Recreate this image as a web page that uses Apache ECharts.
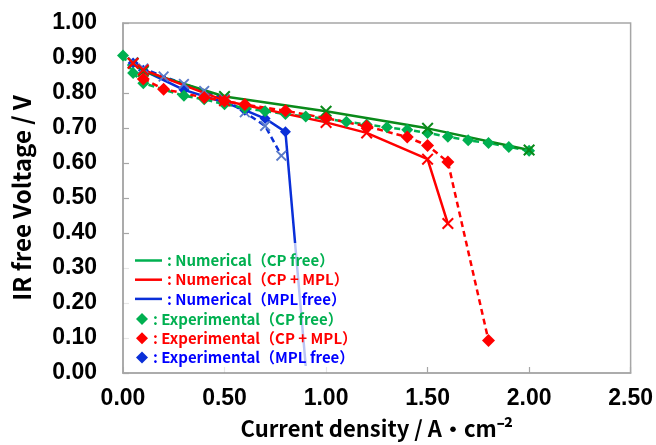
<!DOCTYPE html>
<html><head><meta charset="utf-8">
<script src="https://cdn.jsdelivr.net/npm/echarts@6/dist/echarts.min.js"></script>
<style>html,body{margin:0;padding:0;background:#fff}#c{width:656px;height:445px}</style>
</head><body><div id="c"></div>
<script>
// ---- data ----
const xTicks = [0, 0.5, 1.0, 1.5, 2.0, 2.5];
const yTicks = [0, 0.1, 0.2, 0.3, 0.4, 0.5, 0.6, 0.7, 0.8, 0.9, 1.0];

const greenNumX = [0.05, 0.1, 0.5, 1.0, 1.5, 2.0];
const greenNumY = [0.885, 0.862, 0.790, 0.748, 0.699, 0.637];

const redNumX = [0.05, 0.1, 0.5, 1.0, 1.2, 1.5, 1.6];
const redNumY = [0.885, 0.866, 0.778, 0.716, 0.686, 0.611, 0.427];

const blueNumX = [0.05, 0.1, 0.2, 0.3, 0.4, 0.5, 0.6, 0.7, 0.78];
const blueNumY = [0.888, 0.870, 0.847, 0.826, 0.806, 0.783, 0.745, 0.706, 0.621];

const greenExpX = [0.0, 0.05, 0.1, 0.3, 0.4, 0.5, 0.6, 0.7, 0.8, 0.9, 1.0, 1.1, 1.2, 1.3, 1.4, 1.5, 1.6, 1.7, 1.8, 1.9, 2.0];
const greenExpY = [0.907, 0.857, 0.828, 0.792, 0.782, 0.768, 0.757, 0.748, 0.740, 0.733, 0.726, 0.718, 0.710, 0.702, 0.695, 0.686, 0.675, 0.665, 0.657, 0.646, 0.635];

const redExpX = [0.1, 0.2, 0.4, 0.5, 0.6, 0.8, 1.0, 1.2, 1.4, 1.5, 1.6, 1.8];
const redExpY = [0.840, 0.811, 0.787, 0.777, 0.767, 0.749, 0.728, 0.705, 0.674, 0.650, 0.603, 0.093];

const blueExpX = [0.05, 0.1, 0.3, 0.5, 0.6, 0.7, 0.8, 0.9];
const blueExpY = [0.886, 0.865, 0.809, 0.773, 0.751, 0.727, 0.689, 0.02];
const blueExpMarked = [true, true, true, true, true, true, true, false];

const numNames = ['Numerical（CP free）', 'Numerical（CP + MPL）', 'Numerical（MPL free）'];
const expNames = ['Experimental（CP free）', 'Experimental（CP + MPL）', 'Experimental（MPL free）'];

// ---- build ----
const pairs = (xs, ys) => xs.map((x, i) => [x, ys[i]]);
const CROSS = 'path://M0,1.2 L1.2,0 L5,3.8 L8.8,0 L10,1.2 L6.2,5 L10,8.8 L8.8,10 L5,6.2 L1.2,10 L0,8.8 L3.8,5 Z';
const GREEN = '#00b050', DKGREEN = '#0a8a1a', RED = '#ff0000', BLUE = '#0a2fd8', XBLUE = '#5a7ac8';

const chart = echarts.init(document.getElementById('c'), null, {renderer: 'canvas'});
const axisCommon = {
  axisLine: {lineStyle: {color: '#a6a6a6', width: 1.5}},
  axisTick: {inside: true, length: 6, lineStyle: {color: '#a6a6a6', width: 1.2}},
  splitLine: {show: false},
};
chart.setOption({
  animation: false,
  backgroundColor: '#fff',
  grid: {left: 123, top: 23, width: 509, height: 350, show: true, borderColor: '#a6a6a6', borderWidth: 1.5, containLabel: false},
  xAxis: Object.assign({
    type: 'value', min: xTicks[0], max: xTicks[xTicks.length - 1], interval: 0.5,
    axisLabel: {formatter: v => v.toFixed(2), fontSize: 23, fontWeight: 'bold', color: '#000', fontFamily: 'Liberation Sans', margin: 14},
    name: 'Current density / A・cm⁻²', nameLocation: 'middle', nameGap: 45,
    nameTextStyle: {fontSize: 22, fontWeight: 'bold', color: '#000', fontFamily: 'Noto Sans CJK JP'}
  }, axisCommon),
  yAxis: Object.assign({
    type: 'value', min: yTicks[0], max: yTicks[yTicks.length - 1], interval: 0.1,
    axisLabel: {formatter: v => v.toFixed(2), fontSize: 23, fontWeight: 'bold', color: '#000', fontFamily: 'Liberation Sans', margin: 26},
    name: 'IR free Voltage / V', nameLocation: 'middle', nameGap: 89,
    nameTextStyle: {fontSize: 24, fontWeight: 'bold', color: '#000', fontFamily: 'Noto Sans CJK JP'}
  }, axisCommon),
  graphic: [{type: 'rect', z: 3, shape: {x: 124, y: 243, width: 214, height: 129}, style: {fill: 'rgba(255,255,255,0.72)'}}],
  legend: [
    {
      orient: 'vertical', left: 135, top: 251, padding: 0, itemGap: 0.2, itemWidth: 27, itemHeight: 2.5,
      selectedMode: false, z: 5, icon: 'rect',
      formatter: n => ': ' + n,
      textStyle: {fontSize: 15, lineHeight: 19, fontFamily: 'Noto Sans CJK JP', fontWeight: 'bold'},
      data: [
        {name: numNames[0], textStyle: {color: GREEN}, itemStyle: {color: GREEN}},
        {name: numNames[1], textStyle: {color: RED}, itemStyle: {color: RED}},
        {name: numNames[2], textStyle: {color: '#0000ff'}, itemStyle: {color: BLUE}}
      ]
    },
    {
      orient: 'vertical', left: 136, top: 309.5, padding: 0, itemGap: 0.2, itemWidth: 12, itemHeight: 12,
      selectedMode: false, z: 5, icon: 'diamond',
      formatter: n => ': ' + n,
      textStyle: {fontSize: 15, lineHeight: 19, fontFamily: 'Noto Sans CJK JP', fontWeight: 'bold'},
      data: [
        {name: expNames[0], textStyle: {color: GREEN}, itemStyle: {color: GREEN}},
        {name: expNames[1], textStyle: {color: RED}, itemStyle: {color: RED}},
        {name: expNames[2], textStyle: {color: '#0000ff'}, itemStyle: {color: BLUE}}
      ]
    }
  ],
  series: [
    {name: expNames[2], type: 'line', z: 2,
     data: pairs(blueExpX, blueExpY).map((p, i) => blueExpMarked[i] ? p : {value: p, symbol: 'none'}),
     symbol: 'diamond', symbolSize: 11, itemStyle: {color: BLUE}, lineStyle: {color: BLUE, width: 2.5}},
    {name: numNames[2], type: 'line', z: 2, data: pairs(blueNumX, blueNumY),
     symbol: CROSS, symbolSize: 11, itemStyle: {color: XBLUE}, lineStyle: {color: BLUE, width: 2.5, type: [6, 4]}},
    {name: expNames[0], type: 'line', z: 2, data: pairs(greenExpX, greenExpY),
     symbol: 'diamond', symbolSize: 12, itemStyle: {color: GREEN}, lineStyle: {color: GREEN, width: 2.5, type: [6, 4]}},
    {name: numNames[0], type: 'line', z: 2, data: pairs(greenNumX, greenNumY),
     symbol: CROSS, symbolSize: 12, itemStyle: {color: DKGREEN}, lineStyle: {color: DKGREEN, width: 2.5}},
    {name: expNames[1], type: 'line', z: 2, data: pairs(redExpX, redExpY),
     symbol: 'diamond', symbolSize: 13, itemStyle: {color: RED}, lineStyle: {color: RED, width: 2.5, type: [6, 4]}},
    {name: numNames[1], type: 'line', z: 2, data: pairs(redNumX, redNumY),
     symbol: CROSS, symbolSize: 12, itemStyle: {color: RED}, lineStyle: {color: RED, width: 2.5}}
  ]
});
</script></body></html>
